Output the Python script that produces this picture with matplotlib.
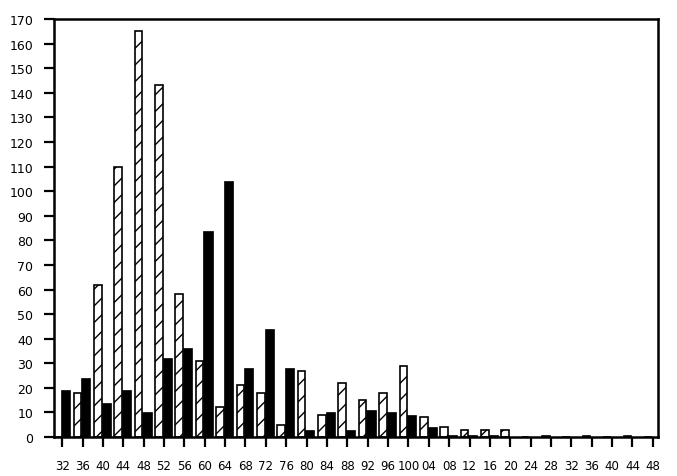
import matplotlib
matplotlib.use("Agg")
import matplotlib.pyplot as plt
import numpy as np

categories = list(range(32, 152, 4))
tick_labels = ["32", "36", "40", "44", "48", "52", "56", "60", "64", "68", "72", "76",
               "80", "84", "88", "92", "96", "100", "04", "08", "12", "16", "20", "24",
               "28", "32", "36", "40", "44", "48"]
hatched_values = [0, 18, 62, 110, 165, 143, 58, 31, 12, 21, 18, 5, 27, 9, 22, 15, 18, 29,
                  8, 4, 3, 3, 3, 0, 0.6, 0, 0.6, 0, 0.6, 0]
black_values = [19, 24, 14, 19, 10, 32, 36, 84, 104, 28, 44, 28, 3, 10, 3, 11, 10, 9,
                4, 1, 1, 1, 0, 0, 0, 0, 0, 0, 0, 0]
y_ticks = list(range(0, 171, 10))

plt.rcParams['hatch.linewidth'] = 1.0
fig = plt.figure(figsize=(6.77, 4.77), dpi=100)
ax = fig.add_axes([0.0798, 0.0818, 0.892, 0.876])

x = np.array(categories, dtype=float)
ax.bar(x - 1.0, hatched_values, width=1.5, color="white", edgecolor="black",
       linewidth=1.2, hatch="//")
ax.bar(x + 0.65, black_values, width=1.8, color="black", edgecolor="black", linewidth=0.5)

ax.set_xlim(30.4, 149)
ax.set_ylim(0, 170)
ax.set_xticks(categories)
ax.set_xticklabels(tick_labels)
ax.set_yticks(y_ticks)

for s in ax.spines.values():
    s.set_linewidth(1.8)
ax.tick_params(axis="both", direction="out", length=7, width=1.6)
ax.tick_params(axis="x", pad=9, labelsize=8.5)
ax.tick_params(axis="y", pad=8, labelsize=9)

fig.savefig("out.png", dpi=100)
